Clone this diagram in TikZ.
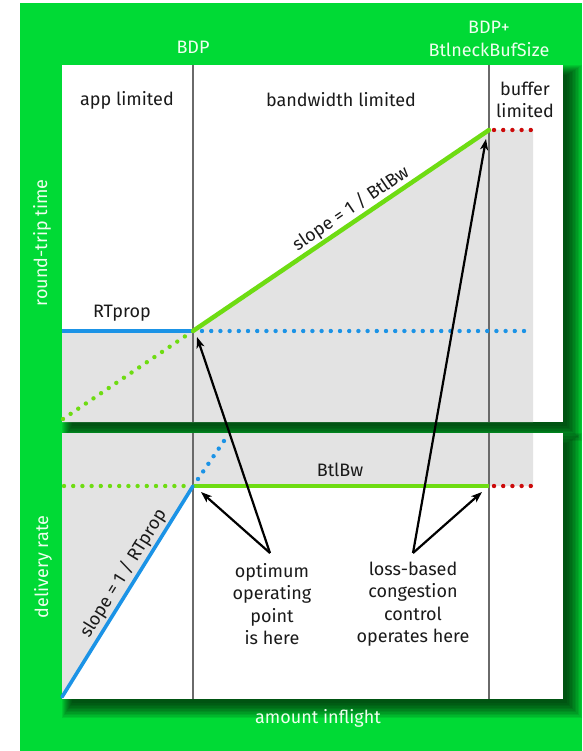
\documentclass[tikz,border=0pt]{standalone}
\usepackage{fontspec}
\setmainfont{Fira Sans}
\usetikzlibrary{arrows.meta}

\definecolor{bggreen}{HTML}{00DA35}
\definecolor{linegreen}{HTML}{6EDC12}
\definecolor{lineblue}{HTML}{1B93E6}
\definecolor{dotred}{HTML}{CC0A0A}
\definecolor{zonegray}{HTML}{E3E3E3}
\definecolor{dividergray}{HTML}{6A6A6A}
\definecolor{labelwhite}{HTML}{EEFFEE}
\definecolor{inktext}{HTML}{1A1A1A}

% soft drop shadow built from stacked translucent rectangles:
% #1,#2 = top-left corner, #3,#4 = bottom-right corner of the panel
\newcommand\panelshadow[4]{%
  \foreach \r in {0,...,10}{%
    \fill[black, opacity=0.08] (#1+10-\r, #2+10-\r) rectangle (#3+4+1.5*\r, #4+4+1.5*\r);
  }%
}

\begin{document}
\begin{tikzpicture}[
  x=1pt, y=-1pt,
  font=\fontsize{18}{22.5}\selectfont,
  panel/.style={fill=white},
  zone/.style={fill=zonegray},
  divider/.style={draw=dividergray, line width=1.6pt},
  solidgreen/.style={draw=linegreen, line width=4.5pt},
  solidblue/.style={draw=lineblue, line width=3.6pt},
  dotline/.style={line width=4.4pt, line cap=round, dash pattern=on 0pt off 9.2pt},
  greendots/.style={dotline, draw=linegreen},
  bluedots/.style={dotline, draw=lineblue},
  reddots/.style={dotline, draw=dotred},
  pointer/.style={draw=black, line width=2.2pt,
      -{Stealth[length=11pt, width=8pt, inset=3pt]}},
  onbg/.style={text=labelwhite, inner sep=0pt},
  intext/.style={text=inktext, inner sep=0pt},
]

\useasboundingbox (0,0) rectangle (582,751);
\fill[bggreen] (20,3) rectangle (582,751);

% two panels with their drop shadows
\panelshadow{62}{65}{563}{422}
\path[panel] (62,65) rectangle (563,422);
\panelshadow{62}{433}{563}{699}
\path[panel] (62,433) rectangle (563,699);

% key points of the round-trip-time panel
\coordinate (rtLeft) at (62,331);
\coordinate (optTop) at (193,331);
\coordinate (kneeTop) at (489,130);
\coordinate (rtDotStart) at (202,331);
\coordinate (rtDotEnd) at (530,331);
\coordinate (rtOrigin) at (63,419);
\coordinate (rtOriginEnd) at (187,335);
\coordinate (redTopStart) at (494,130);
\coordinate (redTopEnd) at (532,130);

% key points of the delivery-rate panel
\coordinate (drOrigin) at (62,697);
\coordinate (optBot) at (193,486);
\coordinate (kneeBot) at (489,486);
\coordinate (bwDotStart) at (64,486);
\coordinate (bwDotEnd) at (186,486);
\coordinate (blueUpStart) at (198,479);
\coordinate (blueUpEnd) at (226,438);
\coordinate (redBotStart) at (494,486);
\coordinate (redBotEnd) at (532,486);

% shaded regions
\fill[zone] (62,331) -- (optTop) -- (kneeTop) -- (533,130) -- (533,422) -- (62,422) -- cycle;
\fill[zone] (62,433) -- (533,433) -- (533,486) -- (optBot) -- (drOrigin) -- cycle;

% column dividers
\draw[divider] (193,65) -- (193,422);
\draw[divider] (489,65) -- (489,422);
\draw[divider] (193,433) -- (193,699);
\draw[divider] (489,433) -- (489,699);

% round-trip time curves
\draw[greendots] (rtOrigin) -- (rtOriginEnd);
\draw[bluedots] (rtDotStart) -- (rtDotEnd);
\draw[reddots] (redTopStart) -- (redTopEnd);
\draw[solidblue] (rtLeft) -- (optTop);
\draw[solidgreen, line cap=round] (optTop) -- (kneeTop);

% delivery rate curves
\draw[greendots] (bwDotStart) -- (bwDotEnd);
\draw[bluedots] (blueUpStart) -- (blueUpEnd);
\draw[reddots] (redBotStart) -- (redBotEnd);
\draw[solidgreen] (optBot) -- (kneeBot);
\draw[solidblue, line cap=round] (drOrigin) -- (optBot);

% labels on the green background
\node[onbg] (bdp) at (193,47) {BDP};
\node[onbg, align=center] (bdpbuf) at (489,39) {BDP+\\BtlneckBufSize};
\node[onbg, rotate=90] (rtt) at (42,243) {round-trip time};
\node[onbg, rotate=90] (rate) at (43,567) {delivery rate};
\node[onbg] (inflight) at (318,718) {amount inflight};

% column headings
\node[intext] (appLim) at (127,100) {app limited};
\node[intext] (bwLim) at (341,100) {bandwidth limited};
\node[intext, align=center] (bufLim) at (525,100) {buffer\\limited};

% curve labels
\node[intext] (rtprop) at (122,313) {RTprop};
\node[intext] (btlbw) at (340,470) {BtlBw};
\node[intext, rotate=34.2, anchor=south, inner sep=3pt] (slopeBw) at (358,219) {slope = 1 / BtlBw};
\node[intext, rotate=58.2, anchor=south, inner sep=3pt] (slopeRt) at (134,580) {slope = 1 / RTprop};

% annotations and their pointers
\node[intext, align=center] (optimum) at (272,604) {optimum\\operating\\point\\is here};
\node[intext, align=center] (lossbased) at (413,604) {loss-based\\congestion\\control\\operates here};
\coordinate (optApex) at (270,553);
\coordinate (lossApex) at (413,553);
\coordinate (optTopTip) at (197,337);
\coordinate (optBotTip) at (201,492);
\coordinate (lossTopTip) at (486,139);
\coordinate (lossBotTip) at (482,492);
\draw[pointer] (optApex) -- (optTopTip);
\draw[pointer] (optApex) -- (optBotTip);
\draw[pointer] (lossApex) -- (lossTopTip);
\draw[pointer] (lossApex) -- (lossBotTip);

\end{tikzpicture}
\end{document}
